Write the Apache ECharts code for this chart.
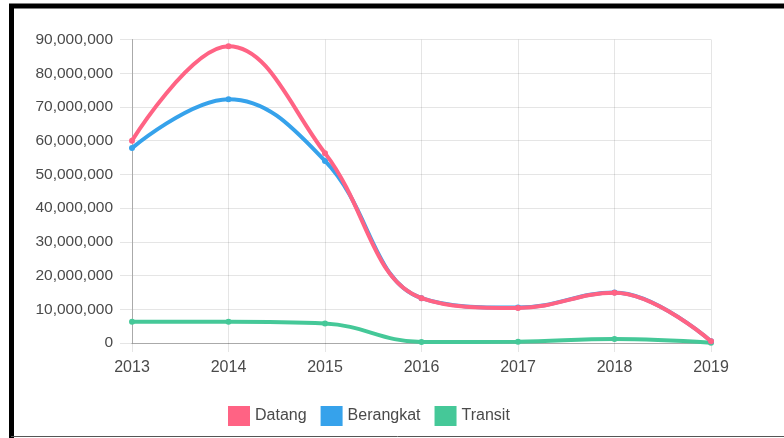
<!DOCTYPE html>
<html>
<head>
<meta charset="utf-8">
<script src="https://cdn.jsdelivr.net/npm/echarts@6/dist/echarts.min.js"></script>
<style>
	html, body {margin: 0; padding: 0; background: #fff;}
	#chart {width: 784px; height: 438px;}
</style>
</head>
<body>
<div id="chart"></div>
<script>
var years = ['2013', '2014', '2015', '2016', '2017', '2018', '2019'];
var datang = [60000000, 88000000, 56300000, 13300000, 10400000, 14900000, 500000];
var berangkat = [57800000, 72300000, 54000000, 13300000, 10500000, 15000000, 500000];
var transit = [6300000, 6300000, 5800000, 300000, 400000, 1200000, 100000];
var series_names = ['Datang', 'Berangkat', 'Transit'];

var font = 'Liberation Sans, Arial, sans-serif';
var grid_color = 'rgba(0,0,0,0.1)';

function fmt(v){
	return String(v).replace(/\B(?=(\d{3})+(?!\d))/g, ',');
}

function line(name, data, color, z){
	return {
		name: name, type: 'line', data: data, smooth: 0.4, z: z,
		symbol: 'circle', symbolSize: 6,
		itemStyle: {color: color},
		lineStyle: {width: 4, color: color}
	};
}

var myChart = echarts.init(document.getElementById('chart'));

var options = {
	animation: false,
	textStyle: {fontFamily: font},
	graphic: [
		{type: 'polyline', shape: {points: [[11.5, 438], [11.5, 6], [784, 6]]}, style: {stroke: '#000', lineWidth: 5, fill: null}},
		{type: 'line', shape: {x1: 11, y1: 436.5, x2: 784, y2: 436.5}, style: {stroke: '#555', lineWidth: 1}}
	],
	legend: {
		left: 223, top: 401,
		icon: 'rect', itemWidth: 22, itemHeight: 20, itemGap: 14,
		data: series_names,
		textStyle: {fontSize: 16, color: '#4a4a4a', fontFamily: font}
	},
	grid: {left: 132, right: 73, top: 39.5, bottom: 95},
	xAxis: {
		type: 'category', data: years, boundaryGap: false,
		axisLine: {lineStyle: {color: '#aaa'}},
		axisTick: {show: true, length: 9, lineStyle: {color: grid_color}},
		axisLabel: {fontSize: 16, color: '#4a4a4a', margin: 17},
		splitLine: {show: true, lineStyle: {color: grid_color}}
	},
	yAxis: {
		type: 'value', min: 0, max: 90000000, interval: 10000000,
		axisLine: {show: true, lineStyle: {color: '#aaa'}},
		axisTick: {show: true, length: 12, lineStyle: {color: grid_color}},
		axisLabel: {fontSize: 15.5, color: '#4a4a4a', margin: 19, formatter: fmt},
		splitLine: {show: true, lineStyle: {color: grid_color}}
	},
	series: [
		line('Datang', datang, '#ff6384', 4),
		line('Berangkat', berangkat, '#36a2eb', 3),
		line('Transit', transit, '#45c898', 2)
	]
};

myChart.setOption(options, true);
</script>
</body>
</html>
